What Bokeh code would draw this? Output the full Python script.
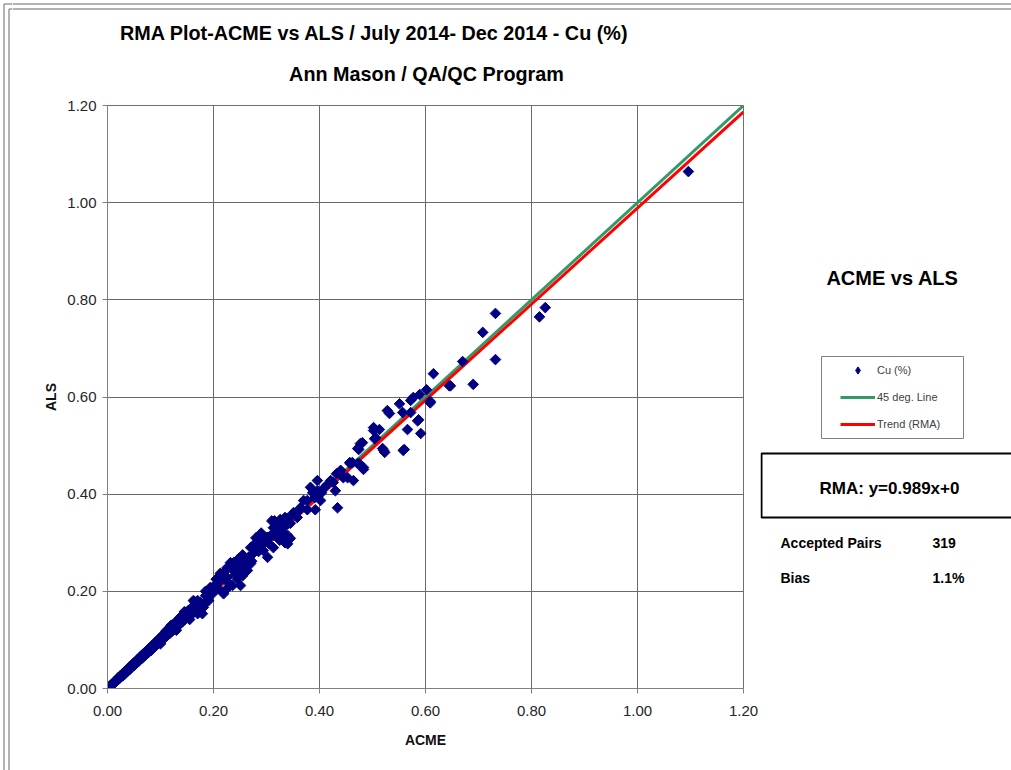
import numpy as np
from bokeh.plotting import figure
from bokeh.layouts import row, column
from bokeh.core.properties import value
from bokeh.models import (Range1d, FixedTicker, PrintfTickFormatter,
                          Legend, LegendItem)
from bokeh.embed import file_html
from bokeh.resources import INLINE

# ---------------- data ----------------
acme = [
    0.002, 0.004, 0.006, 0.008, 0.010, 0.012, 0.014, 0.016, 0.018, 0.020,
    0.022, 0.024, 0.026, 0.028, 0.030, 0.032, 0.034, 0.036, 0.038, 0.040,
    0.042, 0.044, 0.046, 0.048, 0.050, 0.052, 0.054, 0.056, 0.058, 0.060,
    0.062, 0.064, 0.066, 0.068, 0.070, 0.072, 0.074, 0.076, 0.078, 0.080,
    0.082, 0.084, 0.086, 0.088, 0.090, 0.092, 0.094, 0.096, 0.098, 0.100,
    0.102, 0.104, 0.106, 0.108, 0.110, 0.112, 0.114, 0.116, 0.118, 0.120,
    0.122, 0.124, 0.126, 0.128, 0.130, 0.132, 0.134, 0.136, 0.138, 0.140,
    0.142, 0.144, 0.146, 0.148, 0.150, 0.152, 0.154, 0.156, 0.158, 0.160,
    0.162, 0.165, 0.168, 0.170, 0.138,
    0.120, 0.130, 0.145, 0.155, 0.165, 0.172, 0.180, 0.185, 0.110, 0.100,
    0.313, 0.308, 0.289, 0.283, 0.294, 0.302, 0.275, 0.266, 0.257, 0.270,
    0.245, 0.232, 0.251, 0.264, 0.236, 0.223, 0.213, 0.226, 0.245, 0.251,
    0.236, 0.213, 0.204, 0.194, 0.209, 0.226, 0.219, 0.198, 0.185, 0.191,
    0.175, 0.181, 0.162, 0.166, 0.170, 0.157, 0.147, 0.153, 0.179, 0.194,
    0.200, 0.215, 0.240, 0.255, 0.270, 0.280, 0.290, 0.300, 0.315, 0.320,
    0.194, 0.208, 0.226, 0.238, 0.275, 0.294, 0.302, 0.313, 0.340, 0.326,
    0.340, 0.351, 0.370, 0.383,
    0.205, 0.218, 0.228, 0.242, 0.248, 0.260, 0.272, 0.285, 0.296, 0.305,
    0.318, 0.330, 0.335, 0.345, 0.360, 0.255, 0.280, 0.310, 0.325, 0.335,
    0.502, 0.506, 0.477, 0.472, 0.457, 0.475, 0.483, 0.440, 0.432, 0.445,
    0.426, 0.415, 0.430, 0.408, 0.404, 0.396, 0.387, 0.391, 0.402, 0.434,
    0.377, 0.364, 0.377, 0.392, 0.351, 0.358, 0.340, 0.326, 0.323, 0.332,
    0.321, 0.340, 0.313, 0.345, 0.326,
    0.670, 0.732, 0.615, 0.645, 0.690, 0.602, 0.589, 0.577, 0.572, 0.609,
    0.551, 0.532, 0.557, 0.572, 0.587, 0.566, 0.591, 0.513, 0.504, 0.481,
    0.474, 0.519, 0.523, 0.560, 0.462, 0.472,
    0.396, 0.421, 0.440, 0.453, 0.458, 0.464, 0.483, 0.502, 0.521, 0.528,
    0.558, 0.585, 0.609, 0.647,
    0.732, 0.708, 0.826, 0.815, 1.096,
]
als = [
    0.002, 0.005, 0.005, 0.009, 0.008, 0.013, 0.012, 0.017, 0.016, 0.022,
    0.020, 0.026, 0.024, 0.030, 0.027, 0.034, 0.031, 0.038, 0.036, 0.043,
    0.039, 0.046, 0.044, 0.051, 0.047, 0.055, 0.052, 0.059, 0.055, 0.063,
    0.060, 0.068, 0.063, 0.071, 0.067, 0.076, 0.071, 0.080, 0.075, 0.084,
    0.078, 0.088, 0.083, 0.092, 0.087, 0.097, 0.091, 0.101, 0.095, 0.105,
    0.099, 0.110, 0.103, 0.113, 0.106, 0.118, 0.111, 0.123, 0.114, 0.127,
    0.118, 0.131, 0.122, 0.136, 0.126, 0.140, 0.130, 0.145, 0.134, 0.150,
    0.138, 0.152, 0.142, 0.156, 0.146, 0.160, 0.149, 0.163, 0.153, 0.168,
    0.156, 0.172, 0.161, 0.181, 0.146,
    0.130, 0.120, 0.158, 0.142, 0.178, 0.160, 0.172, 0.200, 0.118, 0.092,
    0.331, 0.315, 0.305, 0.294, 0.284, 0.270, 0.278, 0.270, 0.263, 0.257,
    0.259, 0.259, 0.249, 0.243, 0.249, 0.243, 0.237, 0.228, 0.226, 0.212,
    0.212, 0.222, 0.212, 0.206, 0.206, 0.206, 0.195, 0.195, 0.191, 0.181,
    0.177, 0.167, 0.181, 0.167, 0.154, 0.160, 0.156, 0.146, 0.154, 0.200,
    0.210, 0.225, 0.240, 0.275, 0.290, 0.300, 0.320, 0.310, 0.345, 0.325,
    0.208, 0.222, 0.249, 0.259, 0.290, 0.298, 0.311, 0.290, 0.298, 0.346,
    0.339, 0.360, 0.387, 0.414,
    0.225, 0.232, 0.218, 0.235, 0.268, 0.255, 0.262, 0.282, 0.305, 0.298,
    0.335, 0.322, 0.352, 0.340, 0.365, 0.232, 0.310, 0.345, 0.305, 0.300,
    0.537, 0.516, 0.504, 0.494, 0.465, 0.463, 0.451, 0.449, 0.442, 0.434,
    0.424, 0.420, 0.407, 0.412, 0.403, 0.407, 0.403, 0.393, 0.387, 0.372,
    0.387, 0.372, 0.368, 0.368, 0.362, 0.352, 0.350, 0.348, 0.337, 0.331,
    0.321, 0.315, 0.315, 0.309, 0.311,
    0.673, 0.677, 0.648, 0.623, 0.626, 0.615, 0.605, 0.599, 0.593, 0.591,
    0.586, 0.566, 0.568, 0.568, 0.553, 0.533, 0.525, 0.533, 0.514, 0.506,
    0.492, 0.494, 0.486, 0.492, 0.465, 0.463,
    0.428, 0.428, 0.442, 0.434, 0.463, 0.428, 0.455, 0.531, 0.490, 0.572,
    0.490, 0.551, 0.588, 0.623,
    0.772, 0.733, 0.784, 0.765, 1.064,
]
line_x = [0.0, 1.2]
rma_slope = 0.989
rma_intercept = 0.0
ticks = [0.0, 0.2, 0.4, 0.6, 0.8, 1.0, 1.2]

title_text = "RMA Plot-ACME vs ALS / July 2014- Dec 2014 - Cu (%)"
subtitle_text = "Ann Mason / QA/QC Program"
panel_title = "ACME vs ALS"
rma_text = "RMA: y=0.989x+0"
pairs_label, pairs_value = "Accepted Pairs", "319"
bias_label, bias_value = "Bias", "1.1%"
series_names = ["Cu (%)", "45 deg. Line", "Trend (RMA)"]

FONT = "Liberation Sans"
BORDER = "#9a9a9a"
GREEN = "#339966"
RED = "#ff0000"
NAVY = "#000080"


def blank(width, height, xr, yr, **kw):
    opts = dict(min_border=0)
    opts.update(kw)
    f = figure(width=width, height=height, x_range=Range1d(*xr),
               y_range=Range1d(*yr), output_backend="svg",
               toolbar_location=None, x_axis_location=None,
               y_axis_location=None, **opts)
    f.outline_line_color = None
    f.grid.visible = False
    return f


def txt(f, x, y, text, size, align="center"):
    f.text(x=[x], y=[y], text=[text], text_align=align, text_baseline="middle",
           text_font=value(FONT), text_font_size=size, text_font_style="bold",
           text_color="#000000")


# ---------------- left strip: chart border (page coordinates) ----------------
strip = blank(12, 770, (0, 12), (770, 0))
strip.line([3.5, 3.5], [3.5, 770], line_color=BORDER, line_width=1.5)
strip.line([8.5, 8.5], [8.5, 770], line_color=BORDER, line_width=1.5)
strip.line([3.5, 12], [3.5, 3.5], line_color=BORDER, line_width=1.5)
strip.line([8.5, 12], [8.5, 8.5], line_color=BORDER, line_width=1.5)

# ---------------- top strip: titles (page coordinates) ----------------
top = blank(999, 95, (12, 1011), (95, 0))
top.line([12, 1011], [3.5, 3.5], line_color=BORDER, line_width=1.5)
top.line([12, 1011], [8.5, 8.5], line_color=BORDER, line_width=1.5)
txt(top, 374, 32, title_text, "19.8px")
txt(top, 426, 73, subtitle_text, "19.8px")

# ---------------- main scatter chart ----------------
p = figure(width=748, height=675, x_range=Range1d(0, 1.2), y_range=Range1d(0, 1.2),
           output_backend="svg", toolbar_location=None,
           min_border_left=95, min_border_right=17, min_border_top=10,
           min_border_bottom=82)
p.background_fill_color = "white"
p.border_fill_color = "white"
p.outline_line_color = "#707070"

for g in (p.xgrid, p.ygrid):
    g.grid_line_color = "#6a6a6a"
    g.grid_line_width = 1
    g.ticker = FixedTicker(ticks=ticks)

for ax in (p.xaxis, p.yaxis):
    ax.ticker = FixedTicker(ticks=ticks)
    ax.formatter = PrintfTickFormatter(format="%.2f")
    ax.axis_line_color = "#808080"
    ax.major_tick_line_color = "#808080"
    ax.major_tick_out = 5
    ax.major_tick_in = 0
    ax.minor_tick_line_color = None
    ax.major_label_text_font = FONT
    ax.major_label_text_font_size = "15px"
    ax.major_label_text_color = "#262626"
    ax.axis_label_text_font = FONT
    ax.axis_label_text_font_size = "14px"
    ax.axis_label_text_font_style = "bold"
    ax.axis_label_text_color = "#111111"

p.xaxis.axis_label = "ACME"
p.yaxis.axis_label = "ALS"
p.xaxis.major_label_standoff = 12
p.xaxis.axis_label_standoff = 13
p.yaxis.major_label_standoff = 6
p.yaxis.axis_label_standoff = 5

trend_y = [rma_slope * v + rma_intercept for v in line_x]
p.line(line_x, line_x, line_color=GREEN, line_width=3)
p.line(line_x, trend_y, line_color=RED, line_width=3)
p.scatter(acme, als, marker="square", angle=np.pi / 4, size=7.5,
          fill_color=NAVY, line_color=NAVY)

# ---------------- right panel (page coordinates, frame aligned with chart) -----
side = blank(251, 675, (760, 1011), (688, 105),
             min_border_top=10, min_border_bottom=82)
txt(side, 892, 277, panel_title, "20px")

side.quad(left=[821], right=[963], top=[356], bottom=[438], fill_color=None,
          line_color="#808080", line_width=1)
# legend proxies (outside the visible area, used only by the legend)
lg_sc = side.scatter([-500], [-500], marker="diamond",
                     fill_color=NAVY, line_color=NAVY)
lg_45 = side.line([-500, -400], [-500, -500], line_color=GREEN, line_width=3)
lg_tr = side.line([-500, -400], [-500, -500], line_color=RED, line_width=3)
legend = Legend(items=[LegendItem(label=series_names[0], renderers=[lg_sc]),
                       LegendItem(label=series_names[1], renderers=[lg_45]),
                       LegendItem(label=series_names[2], renderers=[lg_tr])],
                location=(80, 255), padding=0, spacing=9, glyph_width=35,
                glyph_height=18, label_height=18, label_standoff=2,
                border_line_alpha=0, background_fill_alpha=0,
                label_text_font=FONT, label_text_font_size="11px",
                label_text_color="#404040", label_text_baseline="middle")
side.add_layout(legend)

side.quad(left=[761], right=[1100], top=[453], bottom=[517], fill_color=None,
          line_color="#000000", line_width=2)
txt(side, 889, 488, rma_text, "17px")
txt(side, 780, 542, pairs_label, "14px", align="left")
txt(side, 932, 542, pairs_value, "14px", align="left")
txt(side, 780, 577, bias_label, "14px", align="left")
txt(side, 932, 577, bias_value, "14px", align="left")

layout = row(strip, column(top, row(p, side, spacing=0), spacing=0), spacing=0)

open("out.html", "w").write(file_html(layout, INLINE))
